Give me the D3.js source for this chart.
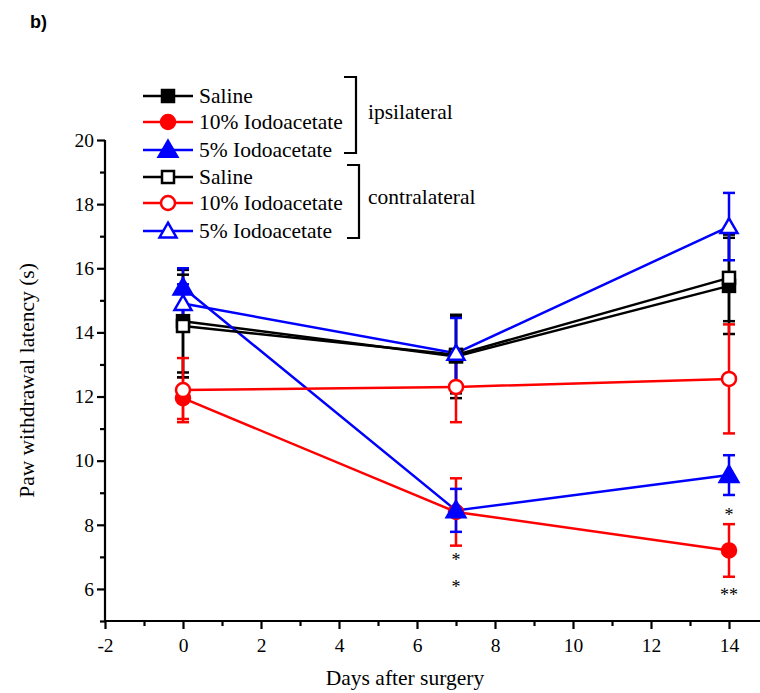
<!DOCTYPE html>
<html>
<head>
<meta charset="utf-8">
<script src="https://cdn.jsdelivr.net/npm/d3@7"></script>
<style>
  html, body { margin: 0; padding: 0; background: #fff; }
  svg { display: block; }
</style>
</head>
<body>
<svg id="chart" width="760" height="693"></svg>
<script>
// Days after surgery at which latency was measured
const days = [0, 7, 14];

// Group labels, colours and marker kinds
const seriesNames = ["Saline", "10% Iodoacetate", "5% Iodoacetate", "Saline", "10% Iodoacetate", "5% Iodoacetate"];
const seriesSide = ["ipsilateral", "ipsilateral", "ipsilateral", "contralateral", "contralateral", "contralateral"];
const seriesColors = ["#000000", "#ff0000", "#0000ff", "#000000", "#ff0000", "#0000ff"];
const seriesShapes = ["square", "circle", "triangle", "square", "circle", "triangle"];
const seriesFilled = [true, true, true, false, false, false];

// Mean paw withdrawal latency (s) per group, one value per day
const salineIpsi = [14.35, 13.25, 15.45];
const iodo10Ipsi = [11.95, 8.40, 7.20];
const iodo5Ipsi = [15.40, 8.45, 9.55];
const salineContra = [14.20, 13.30, 15.70];
const iodo10Contra = [12.20, 12.30, 12.55];
const iodo5Contra = [14.90, 13.35, 17.30];

// Error (SEM) per group, one value per day
const salineIpsiErr = [1.60, 1.30, 1.50];
const iodo10IpsiErr = [0.65, 1.05, 0.82];
const iodo5IpsiErr = [0.60, 0.67, 0.62];
const salineContraErr = [1.60, 1.20, 1.35];
const iodo10ContraErr = [1.00, 1.10, 1.70];
const iodo5ContraErr = [0.60, 1.10, 1.05];

// Significance marks: day, latency level where the mark sits, text
const sigDays = [7, 7, 14, 14];
const sigLevels = [7.0, 6.15, 8.4, 5.9];
const sigTexts = ["*", "*", "*", "**"];

// Axis ticks
const xTickLabels = [-2, 0, 2, 4, 6, 8, 10, 12, 14];
const xMinorTicks = [-1, 1, 3, 5, 7, 9, 11, 13, 15];
const yTickLabels = [6, 8, 10, 12, 14, 16, 18, 20];
const yMinorTicks = [5, 7, 9, 11, 13, 15, 17, 19];

const SERIF = "'Liberation Serif', 'Times New Roman', serif";
const LW = 2.5;

const means = [salineIpsi, iodo10Ipsi, iodo5Ipsi, salineContra, iodo10Contra, iodo5Contra];
const errs = [salineIpsiErr, iodo10IpsiErr, iodo5IpsiErr, salineContraErr, iodo10ContraErr, iodo5ContraErr];

const series = seriesNames.map((name, i) => ({
  name, side: seriesSide[i], color: seriesColors[i], shape: seriesShapes[i], filled: seriesFilled[i],
  points: days.map((d, j) => ({ day: d, value: means[i][j], err: errs[i][j] }))
}));

const svg = d3.select("#chart");

const x = d3.scaleLinear().domain([-2, 16]).range([105, 807]);
const y = d3.scaleLinear().domain([5, 20]).range([621, 140]);

// Panel label
svg.append("text").attr("x", 30).attr("y", 28)
  .style("font-family", "'Liberation Sans', Arial, sans-serif")
  .style("font-weight", "bold").style("font-size", "18px").text("b)");

// Axes
const fmt = d => String(d);
const axisG = svg.append("g");
const xAxis = axisG.append("g").attr("transform", `translate(0,${y(5)})`)
  .call(d3.axisBottom(x).tickValues(xTickLabels).tickSize(8).tickPadding(9).tickFormat(fmt));
axisG.append("g").attr("transform", `translate(0,${y(5)})`)
  .call(d3.axisBottom(x).tickValues(xMinorTicks).tickSize(5).tickFormat(""))
  .select(".domain").remove();
const yAxis = axisG.append("g").attr("transform", `translate(${x(-2)},0)`)
  .call(d3.axisLeft(y).tickValues(yTickLabels).tickSize(8).tickPadding(3).tickFormat(fmt));
axisG.append("g").attr("transform", `translate(${x(-2)},0)`)
  .call(d3.axisLeft(y).tickValues(yMinorTicks).tickSize(5).tickFormat(""))
  .select(".domain").remove();

axisG.selectAll(".domain").attr("stroke", "#000").attr("stroke-width", 2.2);
axisG.selectAll(".tick line").attr("stroke", "#000").attr("stroke-width", 2.2);
xAxis.select(".domain").attr("d", `M${x(-2)},0H${x(16)}`);
yAxis.select(".domain").attr("d", `M0,${y(5)}V${y(20)}`);
axisG.selectAll("g").attr("font-family", SERIF);
axisG.selectAll(".tick text")
  .style("font-family", SERIF).style("font-size", "19.5px").attr("fill", "#000");

// Axis titles
svg.append("text").attr("x", 405).attr("y", 685).attr("text-anchor", "middle")
  .style("font-family", SERIF).style("font-size", "21.5px").text("Days after surgery");
svg.append("text").attr("transform", `translate(34,${y(12.5)}) rotate(-90)`).attr("text-anchor", "middle")
  .style("font-family", SERIF).style("font-size", "21.5px").text("Paw withdrawal latency (s)");

// Marker drawing
function drawMarker(g, s, cx, cy) {
  const fill = s.filled ? s.color : "#fff";
  if (s.shape === "square") {
    g.append("rect").attr("x", cx - 6).attr("y", cy - 6).attr("width", 12).attr("height", 12)
      .attr("fill", fill).attr("stroke", s.color).attr("stroke-width", LW);
  } else if (s.shape === "circle") {
    g.append("circle").attr("cx", cx).attr("cy", cy).attr("r", 7)
      .attr("fill", fill).attr("stroke", s.color).attr("stroke-width", LW);
  } else {
    const sym = d3.symbol().type(d3.symbolTriangle).size(s.filled ? 150 : 125);
    g.append("path").attr("d", sym()).attr("transform", `translate(${cx},${cy + 1.5})`)
      .attr("fill", fill).attr("stroke", s.color).attr("stroke-width", LW);
  }
}

const line = d3.line().x(d => x(d.day)).y(d => y(d.value));
const plot = svg.append("g");

series.forEach(s => {
  const g = plot.append("g");
  // error bars with caps
  s.points.forEach(p => {
    const cx = x(p.day), top = y(p.value + p.err), bot = y(p.value - p.err);
    g.append("line").attr("x1", cx).attr("x2", cx).attr("y1", top).attr("y2", bot)
      .attr("stroke", s.color).attr("stroke-width", LW);
    [top, bot].forEach(yy => g.append("line").attr("x1", cx - 6).attr("x2", cx + 6).attr("y1", yy).attr("y2", yy)
      .attr("stroke", s.color).attr("stroke-width", LW));
  });
  g.append("path").datum(s.points).attr("d", line).attr("fill", "none")
    .attr("stroke", s.color).attr("stroke-width", LW);
});
series.forEach(s => {
  s.points.forEach(p => drawMarker(plot, s, x(p.day), y(p.value)));
});

// Significance marks
sigDays.forEach((d, i) => {
  svg.append("text").attr("x", x(d)).attr("y", y(sigLevels[i]) + 9).attr("text-anchor", "middle")
    .style("font-family", SERIF).style("font-size", "18px").text(sigTexts[i]);
});

// Legend
const legend = svg.append("g");
const rowY = [96, 122, 150, 177, 203, 231];
series.forEach((s, i) => {
  legend.append("line").attr("x1", 143).attr("x2", 193).attr("y1", rowY[i]).attr("y2", rowY[i])
    .attr("stroke", s.color).attr("stroke-width", LW);
  drawMarker(legend, s, 168, rowY[i]);
  legend.append("text").attr("x", 199).attr("y", rowY[i] + 7)
    .style("font-family", SERIF).style("font-size", "21.5px").text(s.name);
});

// Side brackets
const sides = ["ipsilateral", "contralateral"];
const bracketX = [356, 359];
const bracketTop = [77, 165];
const bracketBottom = [153, 238];
const sideLabelY = [119, 204];
sides.forEach((side, i) => {
  legend.append("path")
    .attr("d", `M${bracketX[i] - 12},${bracketTop[i]}H${bracketX[i]}V${bracketBottom[i]}H${bracketX[i] - 12}`)
    .attr("fill", "none").attr("stroke", "#000").attr("stroke-width", 2.2);
  legend.append("text").attr("x", 368).attr("y", sideLabelY[i])
    .style("font-family", SERIF).style("font-size", "21.5px").text(side);
});
</script>
</body>
</html>
